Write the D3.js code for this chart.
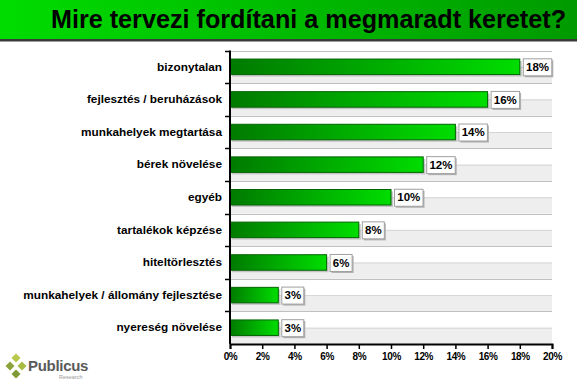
<!DOCTYPE html>
<html><head><meta charset="utf-8">
<script src="https://cdn.jsdelivr.net/npm/d3@7"></script>
<style>body{margin:0;background:#fff}svg{display:block}text{font-family:Arial,"Liberation Sans",sans-serif}</style>
</head><body>
<script>
const titleText = "Mire tervezi fordítani a megmaradt keretet?";
const categories = ["bizonytalan","fejlesztés / beruházások","munkahelyek megtartása","bérek növelése","egyéb","tartalékok képzése","hiteltörlesztés","munkahelyek / állomány fejlesztése","nyereség növelése"];
const values = [18,16,14,12,10,8,6,3,3];
const tickValues = [0,2,4,6,8,10,12,14,16,18,20];

const W=577,H=384;
const svg=d3.select("body").append("svg").attr("width",W).attr("height",H);
const defs=svg.append("defs");
const tg=defs.append("linearGradient").attr("id","tg").attr("x1","0").attr("x2","1");
tg.append("stop").attr("offset","0").attr("stop-color","#00dc00");
tg.append("stop").attr("offset","1").attr("stop-color","#009a00");
const bg=defs.append("linearGradient").attr("id","bg").attr("x1","0").attr("x2","1");
bg.append("stop").attr("offset","0").attr("stop-color","#007a00");
bg.append("stop").attr("offset","1").attr("stop-color","#00dd00");

// title bar
svg.append("rect").attr("x",0).attr("y",0).attr("width",W).attr("height",39).attr("fill","url(#tg)");
svg.append("rect").attr("x",0).attr("y",39).attr("width",W).attr("height",2.5).attr("fill","#3a3a3a");
svg.append("text").attr("x",308.5).attr("y",27.5).attr("text-anchor","middle").attr("font-size",25.2).attr("font-weight","bold").attr("fill","#000").text(titleText);

const x0=230,x1=552,plotTop=50.5,plotBot=344;
const x=d3.scaleLinear().domain([0,20]).range([x0,x1]);
const y=d3.scaleBand().domain(categories).range([plotTop,plotBot]);
const g=svg.append("g");

// bands
categories.forEach(c=>{
  const yt=y(c),bw=y.bandwidth(),yc=yt+bw/2;
  g.append("rect").attr("x",x0).attr("y",yc).attr("width",x1-x0).attr("height",bw/2).attr("fill","#eeeeee");
  g.append("line").attr("x1",x0).attr("x2",x1).attr("y1",yc+0.5).attr("y2",yc+0.5).attr("stroke","#d4d4d4");
  g.append("line").attr("x1",x0).attr("x2",x1).attr("y1",Math.round(yt)+0.5).attr("y2",Math.round(yt)+0.5).attr("stroke","#c0c0c0");
});

// bars
const bh=15.5;
categories.forEach((c,i)=>{
  const yc=y(c)+y.bandwidth()/2;
  g.append("rect").attr("x",x0+2).attr("y",yc-bh/2+2).attr("width",x(values[i])-x0).attr("height",bh).attr("fill","#9a9a9a").attr("opacity",0.5);
  g.append("rect").attr("x",x0).attr("y",yc-bh/2).attr("width",x(values[i])-x0).attr("height",bh).attr("fill","url(#bg)").attr("stroke","#006400").attr("stroke-width",1);
  const lbl=values[i]+"%";
  const tw=lbl.length*6.5+9;
  const bx=x(values[i])+3;
  g.append("rect").attr("x",bx+2).attr("y",yc-8.5+2).attr("width",tw).attr("height",17).attr("fill","#b0b0b0");
  g.append("rect").attr("x",bx+0.5).attr("y",yc-8.5+0.5).attr("width",tw).attr("height",17).attr("fill","#fff").attr("stroke","#a0a0a0");
  g.append("text").attr("x",bx+0.5+tw/2).attr("y",yc+4.2).attr("text-anchor","middle").attr("font-size",11.5).attr("font-weight","bold").text(lbl);
});

// y axis
const ya=svg.append("g").attr("transform",`translate(${x0},0)`).call(d3.axisLeft(y).tickSize(0).tickPadding(8));
ya.select(".domain").remove();
ya.selectAll("text").attr("font-size",11.8).attr("font-weight","bold").attr("fill","#000").style("font-family","Arial, 'Liberation Sans', sans-serif");
svg.append("line").attr("x1",x0).attr("x2",x0).attr("y1",plotTop).attr("y2",plotBot).attr("stroke","#000").attr("stroke-width",2);
categories.forEach(c=>{
  svg.append("line").attr("x1",x0-5).attr("x2",x0).attr("y1",Math.round(y(c))+0.5).attr("y2",Math.round(y(c))+0.5).attr("stroke","#000").attr("stroke-width",1.5);
});

// x axis
const xa=svg.append("g").attr("transform",`translate(0,${plotBot})`).call(d3.axisBottom(x).tickValues(tickValues).tickFormat(d=>d+"%").tickSize(5).tickPadding(4));
xa.select(".domain").attr("stroke","#000").attr("stroke-width",2);
xa.selectAll(".tick line").attr("stroke","#000").attr("stroke-width",1.5);
xa.selectAll("text").attr("font-size",10).attr("font-weight","bold").attr("fill","#000").attr("letter-spacing","-0.4").style("font-family","Arial, 'Liberation Sans', sans-serif");

// logo
const lg=svg.append("g");
const dia=(cx,cy,r,col)=>lg.append("path").attr("d",`M${cx},${cy-r}L${cx+r},${cy}L${cx},${cy+r}L${cx-r},${cy}Z`).attr("fill",col);
dia(16,358,4.5,"#b8c94a");dia(10,366,4.5,"#8aa33a");dia(22,366,4.5,"#a7bc44");dia(16,374,4.5,"#7f9a35");
lg.append("text").attr("x",28).attr("y",371).attr("font-size",15).attr("font-weight","bold").attr("letter-spacing","-0.3").attr("fill","#5a5a5a").text("Publicus");
lg.append("text").attr("x",59).attr("y",379).attr("font-size",5.5).attr("fill","#999").text("Research");
</script>
</body></html>
